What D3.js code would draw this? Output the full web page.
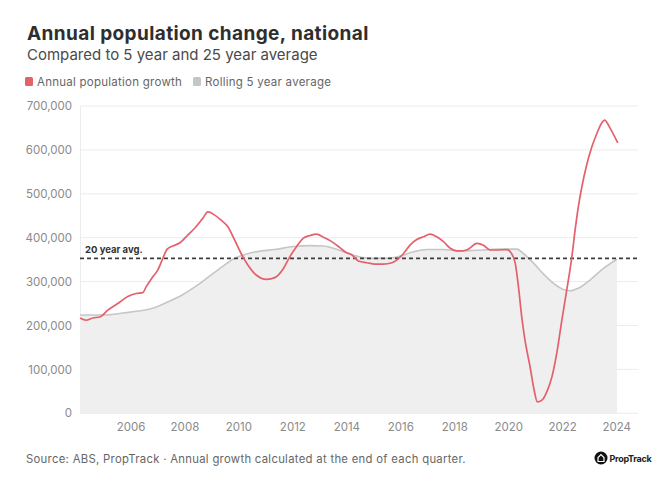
<!DOCTYPE html>
<html>
<head>
<meta charset="utf-8">
<script src="https://cdn.jsdelivr.net/npm/d3@7"></script>
<style>
  html, body { margin: 0; padding: 0; background: #ffffff; }
  svg { display: block; font-family: Inter, "Noto Sans", sans-serif; }
</style>
</head>
<body>
<svg id="chart" width="664" height="483"></svg>
<script>
// ---- Data ----
const titleText = "Annual population change, national";
const subtitleText = "Compared to 5 year and 25 year average";
const seriesNames = ["Annual population growth", "Rolling 5 year average"];
const sourceText = "Source: ABS, PropTrack \u00b7 Annual growth calculated at the end of each quarter.";
const refLabel = "20 year avg.";
const refValue = 353000;

const growthYears = [2004.13, 2004.36, 2004.60, 2004.89, 2005.16, 2005.53, 2005.90, 2006.21, 2006.46, 2006.58,
  2006.83, 2007.01, 2007.20, 2007.36, 2007.57, 2007.85, 2008.12, 2008.37, 2008.68, 2008.87,
  2009.11, 2009.36, 2009.61, 2009.86, 2010.10, 2010.35, 2010.66, 2011.05, 2011.35, 2011.67,
  2011.91, 2012.16, 2012.41, 2012.66, 2012.90, 2013.15, 2013.46, 2013.71, 2013.95, 2014.20,
  2014.45, 2014.76, 2015.07, 2015.37, 2015.69, 2015.87, 2016.12, 2016.36, 2016.61, 2016.86,
  2017.10, 2017.35, 2017.60, 2017.85, 2018.09, 2018.30, 2018.50, 2018.84, 2019.08, 2019.33,
  2019.64, 2019.95, 2020.10, 2020.26, 2020.38, 2020.50, 2020.62, 2020.81, 2020.96, 2021.08,
  2021.25, 2021.43, 2021.62, 2021.80, 2021.99, 2022.17, 2022.29, 2022.36, 2022.48, 2022.60,
  2022.73, 2022.91, 2023.10, 2023.29, 2023.47, 2023.57, 2023.78, 2024.06];
const growthValues = [217000, 212000, 217000, 220000, 235000, 250000, 266000, 273000, 275000, 288000,
  311000, 326000, 353000, 374000, 381000, 389000, 406000, 421000, 444000, 459000,
  452000, 440000, 425000, 395000, 364000, 338000, 315000, 305000, 309000, 330000,
  357000, 380000, 399000, 405000, 408000, 401000, 391000, 380000, 368000, 361000,
  347000, 343000, 340000, 340000, 343000, 349000, 364000, 383000, 396000, 402000,
  408000, 402000, 391000, 376000, 370000, 370000, 373000, 387000, 383000, 372000,
  372000, 373000, 366000, 342000, 288000, 220000, 167000, 106000, 53000, 26000,
  30000, 49000, 83000, 137000, 213000, 281000, 327000, 357000, 418000, 471000,
  516000, 566000, 607000, 638000, 662000, 668000, 649000, 616000];

const avgYears = [2004.13, 2004.93, 2005.80, 2006.42, 2006.91, 2007.40, 2007.90, 2008.39, 2008.88, 2009.38,
  2009.87, 2010.37, 2010.86, 2011.33, 2012.04, 2012.66, 2013.15, 2013.52, 2013.89, 2014.39,
  2014.88, 2015.50, 2015.99, 2016.49, 2016.98, 2017.60, 2018.22, 2019.08, 2019.70, 2020.32,
  2020.56, 2020.94, 2021.31, 2021.68, 2022.05, 2022.30, 2022.60, 2023.04, 2023.53, 2024.03];
const avgValues = [224000, 224000, 229000, 234000, 241000, 254000, 269000, 288000, 310000, 333000,
  353000, 364000, 370000, 373000, 380000, 382000, 381000, 376000, 368000, 358000,
  353000, 353000, 358000, 368000, 373000, 373000, 370000, 372000, 374000, 374000,
  364000, 342000, 317000, 296000, 282000, 279000, 285000, 304000, 330000, 351000];

const yTicks = [0, 100000, 200000, 300000, 400000, 500000, 600000, 700000];
const xTicks = [2006, 2008, 2010, 2012, 2014, 2016, 2018, 2020, 2022, 2024];

// ---- Layout ----
const svg = d3.select("#chart");
const plot = { left: 80, right: 638, top: 106, bottom: 413.3 };
const colors = { growth: "#e4606b", avg: "#c6c6c6", area: "#efefef", grid: "#ececec", ref: "#3d3d3d" };

const x = d3.scaleLinear().domain([2004.13, 2024.81]).range([plot.left, plot.right]);
const y = d3.scaleLinear().domain([0, 700000]).range([plot.bottom, plot.top]);

const growth = growthYears.map((t, i) => ({ t, v: growthValues[i] }));
const avg = avgYears.map((t, i) => ({ t, v: avgValues[i] }));

// Title & subtitle
svg.append("text").attr("x", 27).attr("y", 40)
  .attr("font-size", 19).attr("font-weight", 700).attr("letter-spacing", 0.4)
  .attr("fill", "#2e2e2e").text(titleText);
svg.append("text").attr("x", 27).attr("y", 60)
  .attr("font-size", 15).attr("fill", "#4a4a4a").text(subtitleText);

// Legend
const legend = svg.append("g");
const legItems = [
  { name: seriesNames[0], color: colors.growth, x: 25 },
  { name: seriesNames[1], color: colors.avg, x: 193 }
];
legItems.forEach(d => {
  legend.append("rect").attr("x", d.x).attr("y", 77).attr("width", 8).attr("height", 9)
    .attr("rx", 1.5).attr("fill", d.color);
  legend.append("text").attr("x", d.x + 12).attr("y", 85.5)
    .attr("font-size", 11.5).attr("letter-spacing", 0.25).attr("fill", "#666").text(d.name);
});

// Gridlines
svg.append("g").selectAll("line").data(yTicks).join("line")
  .attr("x1", plot.left).attr("x2", plot.right)
  .attr("y1", d => y(d)).attr("y2", d => y(d))
  .attr("stroke", colors.grid).attr("stroke-width", 1);

// Y axis
const yAxis = svg.append("g").attr("transform", `translate(${plot.left},0)`)
  .call(d3.axisLeft(y).tickValues(yTicks).tickSize(0).tickPadding(8).tickFormat(d3.format(",")));
yAxis.select(".domain").attr("stroke", "#ececec");
yAxis.selectAll("text").attr("font-size", 11.5).attr("fill", "#8a8a8a")
  .attr("font-family", "Inter, 'Noto Sans', sans-serif");

// X axis
const xAxis = svg.append("g").attr("transform", `translate(0,${plot.bottom})`)
  .call(d3.axisBottom(x).tickValues(xTicks).tickSize(0).tickPadding(10).tickFormat(d3.format("d")));
xAxis.select(".domain").remove();
xAxis.selectAll("text").attr("font-size", 11.5).attr("fill", "#8a8a8a")
  .attr("font-family", "Inter, 'Noto Sans', sans-serif");

// Area for rolling average
const area = d3.area().x(d => x(d.t)).y0(y(0)).y1(d => y(d.v)).curve(d3.curveMonotoneX);
svg.append("path").datum(avg).attr("d", area).attr("fill", colors.area);
const avgLine = d3.line().x(d => x(d.t)).y(d => y(d.v)).curve(d3.curveMonotoneX);
svg.append("path").datum(avg).attr("d", avgLine).attr("fill", "none")
  .attr("stroke", colors.avg).attr("stroke-width", 1.6);

// Reference line
svg.append("line").attr("x1", plot.left).attr("x2", plot.right)
  .attr("y1", y(refValue)).attr("y2", y(refValue))
  .attr("stroke", colors.ref).attr("stroke-width", 1.6).attr("stroke-dasharray", "4,3");
svg.append("text").attr("x", 85).attr("y", y(refValue) - 5)
  .attr("font-size", 9.5).attr("font-weight", 700).attr("fill", "#333").text(refLabel);

// Growth line
const growthLine = d3.line().x(d => x(d.t)).y(d => y(d.v)).curve(d3.curveMonotoneX);
svg.append("path").datum(growth).attr("d", growthLine).attr("fill", "none")
  .attr("stroke", colors.growth).attr("stroke-width", 1.7).attr("stroke-linejoin", "round");

// Footer
svg.append("text").attr("x", 26).attr("y", 463)
  .attr("font-size", 11.3).attr("letter-spacing", 0.3).attr("fill", "#666").text(sourceText);

// Logo
const logo = svg.append("g").attr("transform", "translate(601,458)");
logo.append("circle").attr("r", 6.5).attr("fill", "#111");
logo.append("path").attr("d", "M-3,3.5 L-3,-0.5 L0,-3.5 L3,-0.5 L3,3.5 Z").attr("fill", "none")
  .attr("stroke", "#fff").attr("stroke-width", 1.2);
svg.append("text").attr("x", 609.5).attr("y", 461.5)
  .attr("font-size", 9).attr("font-weight", 700).attr("fill", "#222").attr("letter-spacing", -0.3).text("PropTrack");
</script>
</body>
</html>
